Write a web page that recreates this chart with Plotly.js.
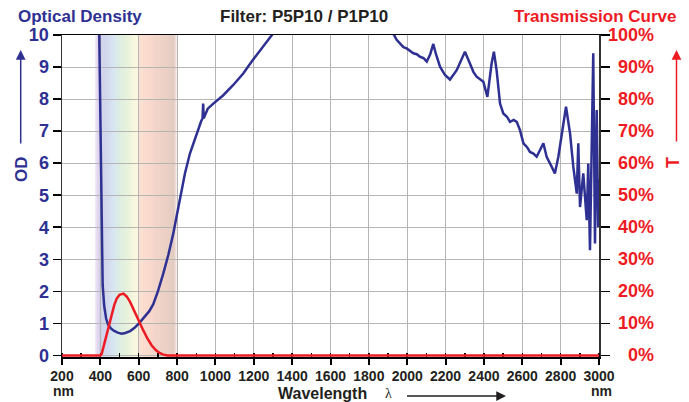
<!DOCTYPE html>
<html>
<head>
<meta charset="utf-8">
<script src="https://cdn.plot.ly/plotly-3.0.1.min.js"></script>
<style>html,body{margin:0;padding:0;background:#fff;}#chart{width:689px;height:402px;}</style>
</head>
<body>
<div id="chart"></div>
<script>
// ---- Data ----
const odWavelength = [393, 396, 400, 405, 412, 420, 430, 440, 455, 470, 490, 511, 530, 555, 580, 607, 630, 655, 676, 700, 728, 755, 780, 806, 825, 841, 867, 902, 925, 933, 936, 939, 945, 960, 989, 1041, 1093, 1145, 1189, 1230, 1260, 1293, 1320,
  null,
  1915, 1931, 1945, 1962, 1980, 1997, 2015, 2032, 2050, 2067, 2085, 2102, 2120, 2136, 2150, 2171, 2197, 2223, 2258, 2284, 2301, 2327, 2345, 2362, 2397, 2418, 2440, 2452, 2466, 2484, 2501, 2520, 2536, 2555, 2571, 2588, 2606, 2625, 2640, 2658, 2675, 2710, 2727, 2753, 2770, 2788, 2805, 2828, 2849, 2866, 2884, 2892, 2901, 2918, 2936, 2944, 2953, 2962, 2970, 2979, 2988, 2996, 3000];
const odValue = [10.6, 9.0, 6.5, 4.0, 2.2, 1.55, 1.15, 0.97, 0.84, 0.77, 0.71, 0.68, 0.7, 0.76, 0.87, 1.04, 1.2, 1.38, 1.6, 2.0, 2.55, 3.15, 3.8, 4.63, 5.15, 5.68, 6.3, 6.93, 7.3, 7.4, 7.86, 7.4, 7.5, 7.7, 7.86, 8.12, 8.44, 8.8, 9.17, 9.5, 9.75, 10.0, 10.2,
  null,
  10.3, 10.0, 9.85, 9.74, 9.62, 9.58, 9.5, 9.43, 9.4, 9.32, 9.28, 9.17, 9.4, 9.72, 9.4, 9.01, 8.75, 8.61, 8.9, 9.22, 9.48, 9.11, 8.85, 8.7, 8.54, 8.07, 9.11, 9.48, 8.9, 7.86, 7.55, 7.45, 7.29, 7.35, 7.29, 7.03, 6.62, 6.5, 6.35, 6.3, 6.2, 6.62, 6.2, 5.89, 5.68, 6.2, 6.93, 7.76, 6.93, 5.89, 5.05, 6.62, 4.63, 5.68, 4.22, 5.99, 3.28, 5.99, 9.43, 3.49, 7.66, 4.0, 5.5];

const tWavelength = [200, 400, 407, 420, 433, 446, 459, 472, 485, 500, 520, 537, 555, 572, 590, 607, 624, 646, 668, 690, 711, 730, 750, 3000];
const tValue = [0, 0, 0.5, 3.5, 6.8, 10, 13, 15.6, 17.7, 18.9, 19.3, 18.4, 16.7, 14.4, 12, 9.8, 7.8, 5.2, 3.1, 1.6, 0.7, 0.25, 0, 0];

const xTickVals = [200, 400, 600, 800, 1000, 1200, 1400, 1600, 1800, 2000, 2200, 2400, 2600, 2800, 3000];
const odTickVals = [0, 1, 2, 3, 4, 5, 6, 7, 8, 9, 10];
const tTickVals = [0, 10, 20, 30, 40, 50, 60, 70, 80, 90, 100];

// ---- Styling ----
const NAVY = '#2e3192';
const RED = '#ed1c24';
const DARK = '#231f20';
const FONT = 'Liberation Sans, Arial, sans-serif';

// spectrum background stops (decoration)
const specStops = [
  [372, [245, 238, 248]], [385, [222, 206, 234]], [400, [200, 198, 228]], [440, [200, 210, 234]],
  [470, [208, 226, 240]], [500, [214, 234, 218]], [540, [226, 238, 212]], [575, [246, 245, 214]],
  [598, [252, 246, 216]], [602, [251, 218, 200]], [650, [248, 210, 194]], [720, [234, 200, 186]],
  [785, [222, 192, 180]], [798, [246, 236, 232]]
];
function specColor(nm) {
  for (let i = 0; i < specStops.length - 1; i++) {
    const [a, ca] = specStops[i], [b, cb] = specStops[i + 1];
    if (nm >= a && nm <= b) {
      const f = (nm - a) / (b - a);
      const c = ca.map((v, k) => Math.round(v + (cb[k] - v) * f));
      return 'rgb(' + c.join(',') + ')';
    }
  }
  return 'rgb(255,255,255)';
}
const shapes = [];
const step = 3;
for (let nm = 372; nm < 798; nm += step) {
  shapes.push({type: 'rect', layer: 'below', xref: 'x', yref: 'paper', x0: nm, x1: nm + step + 0.5, y0: 0, y1: 1,
    fillcolor: specColor(nm + step / 2), line: {width: 0}});
}

// pixel helpers for annotations
const L = 62, R = 90, T = 35, B = 45, W = 689, H = 402;
const PW = W - L - R, PH = H - T - B;
const px = x => (x - L) / PW;
const py = y => (H - B - y) / PH;

const annotations = [
  {text: 'Optical Density', x: px(80), y: py(16), xref: 'paper', yref: 'paper', showarrow: false, xanchor: 'center', yanchor: 'middle', font: {family: FONT, size: 17, color: NAVY, weight: 'bold'}},
  {text: 'Filter: P5P10 / P1P10', x: px(304), y: py(16), xref: 'paper', yref: 'paper', showarrow: false, xanchor: 'center', yanchor: 'middle', font: {family: FONT, size: 17, color: DARK, weight: 'bold'}},
  {text: 'Transmission Curve', x: px(595), y: py(16), xref: 'paper', yref: 'paper', showarrow: false, xanchor: 'center', yanchor: 'middle', font: {family: FONT, size: 17, color: RED, weight: 'bold'}},
  {text: 'OD', textangle: -90, x: px(21), y: py(169), xref: 'paper', yref: 'paper', showarrow: false, xanchor: 'center', yanchor: 'middle', font: {family: FONT, size: 17, color: NAVY, weight: 'bold'}},
  {text: 'T', textangle: -90, x: px(673), y: py(163), xref: 'paper', yref: 'paper', showarrow: false, xanchor: 'center', yanchor: 'middle', font: {family: FONT, size: 18, color: RED, weight: 'bold'}},
  {text: ' ', x: px(20.7), y: py(50), xref: 'paper', yref: 'paper', showarrow: true, ax: 0, ay: 102, arrowhead: 2, arrowsize: 1.3, arrowwidth: 1.5, arrowcolor: NAVY, standoff: 0},
  {text: ' ', x: px(676.5), y: py(50), xref: 'paper', yref: 'paper', showarrow: true, ax: 0, ay: 100, arrowhead: 2, arrowsize: 1.3, arrowwidth: 1.5, arrowcolor: RED, standoff: 0},
  {text: 'nm', x: px(63), y: py(391), xref: 'paper', yref: 'paper', showarrow: false, xanchor: 'center', yanchor: 'middle', font: {family: FONT, size: 14, color: DARK, weight: 'bold'}},
  {text: 'nm', x: px(601), y: py(391), xref: 'paper', yref: 'paper', showarrow: false, xanchor: 'center', yanchor: 'middle', font: {family: FONT, size: 14, color: DARK, weight: 'bold'}},
  {text: 'Wavelength', x: px(322), y: py(393), xref: 'paper', yref: 'paper', showarrow: false, xanchor: 'center', yanchor: 'middle', font: {family: FONT, size: 16, color: DARK, weight: 'bold'}},
  {text: 'λ', x: px(388), y: py(393), xref: 'paper', yref: 'paper', showarrow: false, xanchor: 'center', yanchor: 'middle', font: {family: 'Liberation Serif, serif', size: 14, color: DARK}},
  {text: ' ', x: px(506), y: py(396), xref: 'paper', yref: 'paper', showarrow: true, ax: -102, ay: 0, arrowhead: 2, arrowsize: 1.3, arrowwidth: 1.5, arrowcolor: DARK, standoff: 0}
];
tTickVals.forEach(v => {
  annotations.push({text: v + '%', x: px(656), y: v, xref: 'paper', yref: 'y2', showarrow: false, xanchor: 'right', yanchor: 'middle',
    font: {family: FONT, size: 18, color: RED, weight: 'bold'}});
});

const traces = [
  {x: tWavelength, y: tValue, yaxis: 'y2', type: 'scatter', mode: 'lines', line: {color: RED, width: 2.5}, hoverinfo: 'skip'},
  {x: odWavelength, y: odValue, type: 'scatter', mode: 'lines', connectgaps: false, line: {color: NAVY, width: 2.5}, hoverinfo: 'skip'}
];

const layout = {
  width: W, height: H,
  margin: {l: L, r: R, t: T, b: B, pad: 0},
  paper_bgcolor: '#fff', plot_bgcolor: 'rgba(0,0,0,0)',
  showlegend: false,
  font: {family: FONT},
  xaxis: {
    range: [200, 3000], tickvals: xTickVals, ticktext: xTickVals.map(String),
    showgrid: true, gridcolor: '#b5b5b5', gridwidth: 1,
    showline: true, linecolor: '#000', linewidth: 1.5, mirror: true,
    ticks: 'outside', ticklen: 6, tickwidth: 2, tickcolor: '#000',
    minor: {dtick: 100, tick0: 200, ticks: 'inside', ticklen: 4, tickwidth: 1.5, tickcolor: '#000', showgrid: false},
    tickfont: {family: FONT, size: 14, color: DARK, weight: 'bold'},
    zeroline: false, layer: 'below traces', fixedrange: true
  },
  yaxis: {
    range: [-0.05, 10], tickvals: odTickVals, ticktext: odTickVals.map(String),
    showgrid: true, gridcolor: '#b5b5b5', gridwidth: 1,
    showline: true, linecolor: '#333', linewidth: 1.5,
    ticks: 'outside', ticklen: 8, tickwidth: 1.5, tickcolor: '#000',
    tickfont: {family: FONT, size: 18, color: NAVY, weight: 'bold'},
    zeroline: false, layer: 'below traces', fixedrange: true
  },
  yaxis2: {
    overlaying: 'y', side: 'right', range: [-0.5, 100], tickvals: tTickVals,
    showticklabels: false, showgrid: false,
    showline: true, linecolor: '#333', linewidth: 1.5,
    ticks: 'outside', ticklen: 9, tickwidth: 1.5, tickcolor: '#000',
    zeroline: false, layer: 'below traces', fixedrange: true
  },
  shapes: shapes,
  annotations: annotations
};

Plotly.newPlot('chart', traces, layout, {staticPlot: true, displayModeBar: false});
</script>
</body>
</html>
